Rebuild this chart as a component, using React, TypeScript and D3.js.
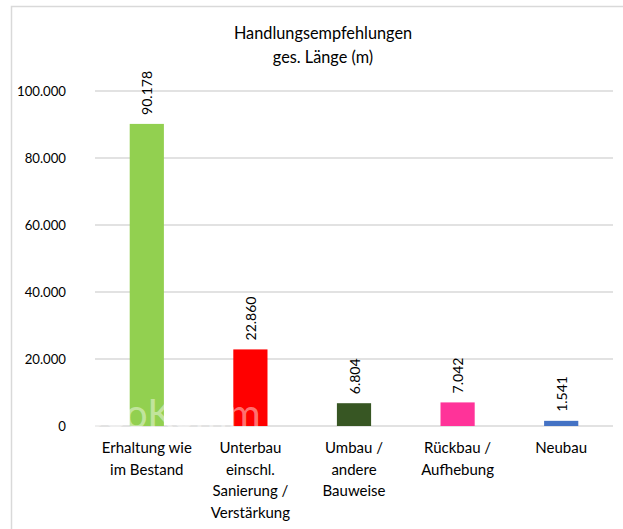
import React from "react";
import * as d3 from "d3";

const categories: string[][] = [
  ["Erhaltung wie", "im Bestand"],
  ["Unterbau", "einschl.", "Sanierung /", "Verstärkung"],
  ["Umbau /", "andere", "Bauweise"],
  ["Rückbau /", "Aufhebung"],
  ["Neubau"],
];
const values: number[] = [90178, 22860, 6804, 7042, 1541];
const valueLabels: string[] = ["90.178", "22.860", "6.804", "7.042", "1.541"];
const colors: string[] = ["#92D050", "#FF0000", "#375623", "#FF3399", "#4472C4"];
const yTicks: number[] = [0, 20000, 40000, 60000, 80000, 100000];
const yTickLabels: string[] = ["0", "20.000", "40.000", "60.000", "80.000", "100.000"];
const titleLines: string[] = ["Handlungsempfehlungen", "ges. Länge (m)"];

const W = 623;
const H = 529;
const FONT = "Lato, 'Open Sans', sans-serif";

export default function App() {
  const x = d3
    .scaleBand<number>()
    .domain(d3.range(values.length))
    .range([95, 613])
    .paddingInner(0.67)
    .paddingOuter(0.335);
  const y = d3.scaleLinear().domain([0, 100000]).range([426, 91]);

  return (
    <svg
      width={W}
      height={H}
      style={{ position: "absolute", left: 0, top: 0, background: "#fff" }}
      fontFamily={FONT}
    >
      <rect x={11.5} y={6.5} width={700} height={600} fill="#fff" stroke="#D9D9D9" strokeWidth={1.5} />
      {titleLines.map((t, i) => (
        <text key={i} x={323} y={39 + i * 24} textAnchor="middle" fontSize={16.3} fill="#000">
          {t}
        </text>
      ))}
      {yTicks.map((t, i) => (
        <g key={t}>
          <line x1={95} x2={613} y1={y(t)} y2={y(t)} stroke="#D9D9D9" strokeWidth={1.5} />
          <text x={66} y={y(t)} dy="0.35em" textAnchor="end" fontSize={13.2} fill="#000">
            {yTickLabels[i]}
          </text>
        </g>
      ))}
      {values.map((v, i) => {
        const bx = x(i)!;
        const bw = x.bandwidth();
        const cx = bx + bw / 2;
        return (
          <g key={i}>
            <rect x={bx} y={y(v)} width={bw} height={y(0) - y(v)} fill={colors[i]} />
            <text
              transform={`translate(${cx + 5.5},${y(v) - 9}) rotate(-90)`}
              fontSize={14}
              fill="#000"
            >
              {valueLabels[i]}
            </text>
            {categories[i].map((line, j) => (
              <text key={j} x={cx} y={453 + j * 21.5} textAnchor="middle" fontSize={15} fill="#000">
                {line}
              </text>
            ))}
          </g>
        );
      })}
      <text x={75} y={428} fontSize={40} fill="#fff" fillOpacity={0.45} fontFamily={FONT}>
        GeoKomm
      </text>
    </svg>
  );
}
